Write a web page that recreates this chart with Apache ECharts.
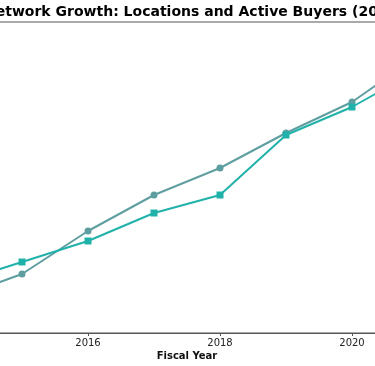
<!DOCTYPE html>
<html>
<head>
<meta charset="utf-8">
<script src="https://cdn.jsdelivr.net/npm/echarts@6/dist/echarts.min.js"></script>
<style>html,body{margin:0;padding:0;background:#fff;overflow:hidden;width:375px;height:366px}#c{position:absolute;left:-100px;top:0;width:650px;height:366px}</style>
</head>
<body>
<div id="c"></div>
<script>
const years = [2014, 2015, 2016, 2017, 2018, 2019, 2020, 2021];
const locations = [35, 59, 102, 138, 165, 200, 231, 277];
const activeBuyers = [50, 71, 92, 120, 138, 198, 226, 263];
const titleText = 'Network Growth: Locations and Active Buyers (2014–2021)';
const xAxisTitle = 'Fiscal Year';

const chart = echarts.init(document.getElementById('c'), null, {renderer: 'canvas'});
const pair = (xs, ys) => xs.map((x, i) => [x, ys[i]]);
chart.setOption({
  animation: false,
  title: [{
    text: titleText,
    left: 79, top: 0,
    textStyle: {fontFamily: 'DejaVu Sans', fontWeight: 'bold', fontSize: 14, color: '#000'}
  }, {
    text: xAxisTitle,
    left: 287, top: 351, textAlign: 'center',
    padding: 0,
    textStyle: {fontFamily: 'DejaVu Sans', fontWeight: 'bold', fontSize: 10, color: '#111'}
  }],
  grid: {left: 56, top: 22, width: 528, height: 311, outerBoundsMode: 'none', containLabel: false,
         show: true, borderColor: '#555', borderWidth: 1, backgroundColor: 'transparent'},
  xAxis: {
    type: 'value', min: 2014, max: 2022, interval: 2,
    axisLine: {lineStyle: {color: '#555', width: 1}},
    axisTick: {show: true, length: 3, lineStyle: {color: '#555'}},
    axisLabel: {fontFamily: 'DejaVu Sans', fontSize: 10, color: '#222', margin: 5, formatter: v => String(v)},
    splitLine: {show: false}
  },
  yAxis: {type: 'value', min: 0, max: 311, show: false, splitLine: {show: false}},
  series: [
    {name: 'Locations', type: 'line', data: pair(years, locations), symbol: 'circle', symbolSize: 7,
     lineStyle: {color: '#5F9EA0', width: 2}, itemStyle: {color: '#5F9EA0'}},
    {name: 'Active Buyers', type: 'line', data: pair(years, activeBuyers), symbol: 'rect', symbolSize: 7,
     lineStyle: {color: '#20B2AA', width: 2}, itemStyle: {color: '#20B2AA'}}
  ]
});
</script>
</body>
</html>
